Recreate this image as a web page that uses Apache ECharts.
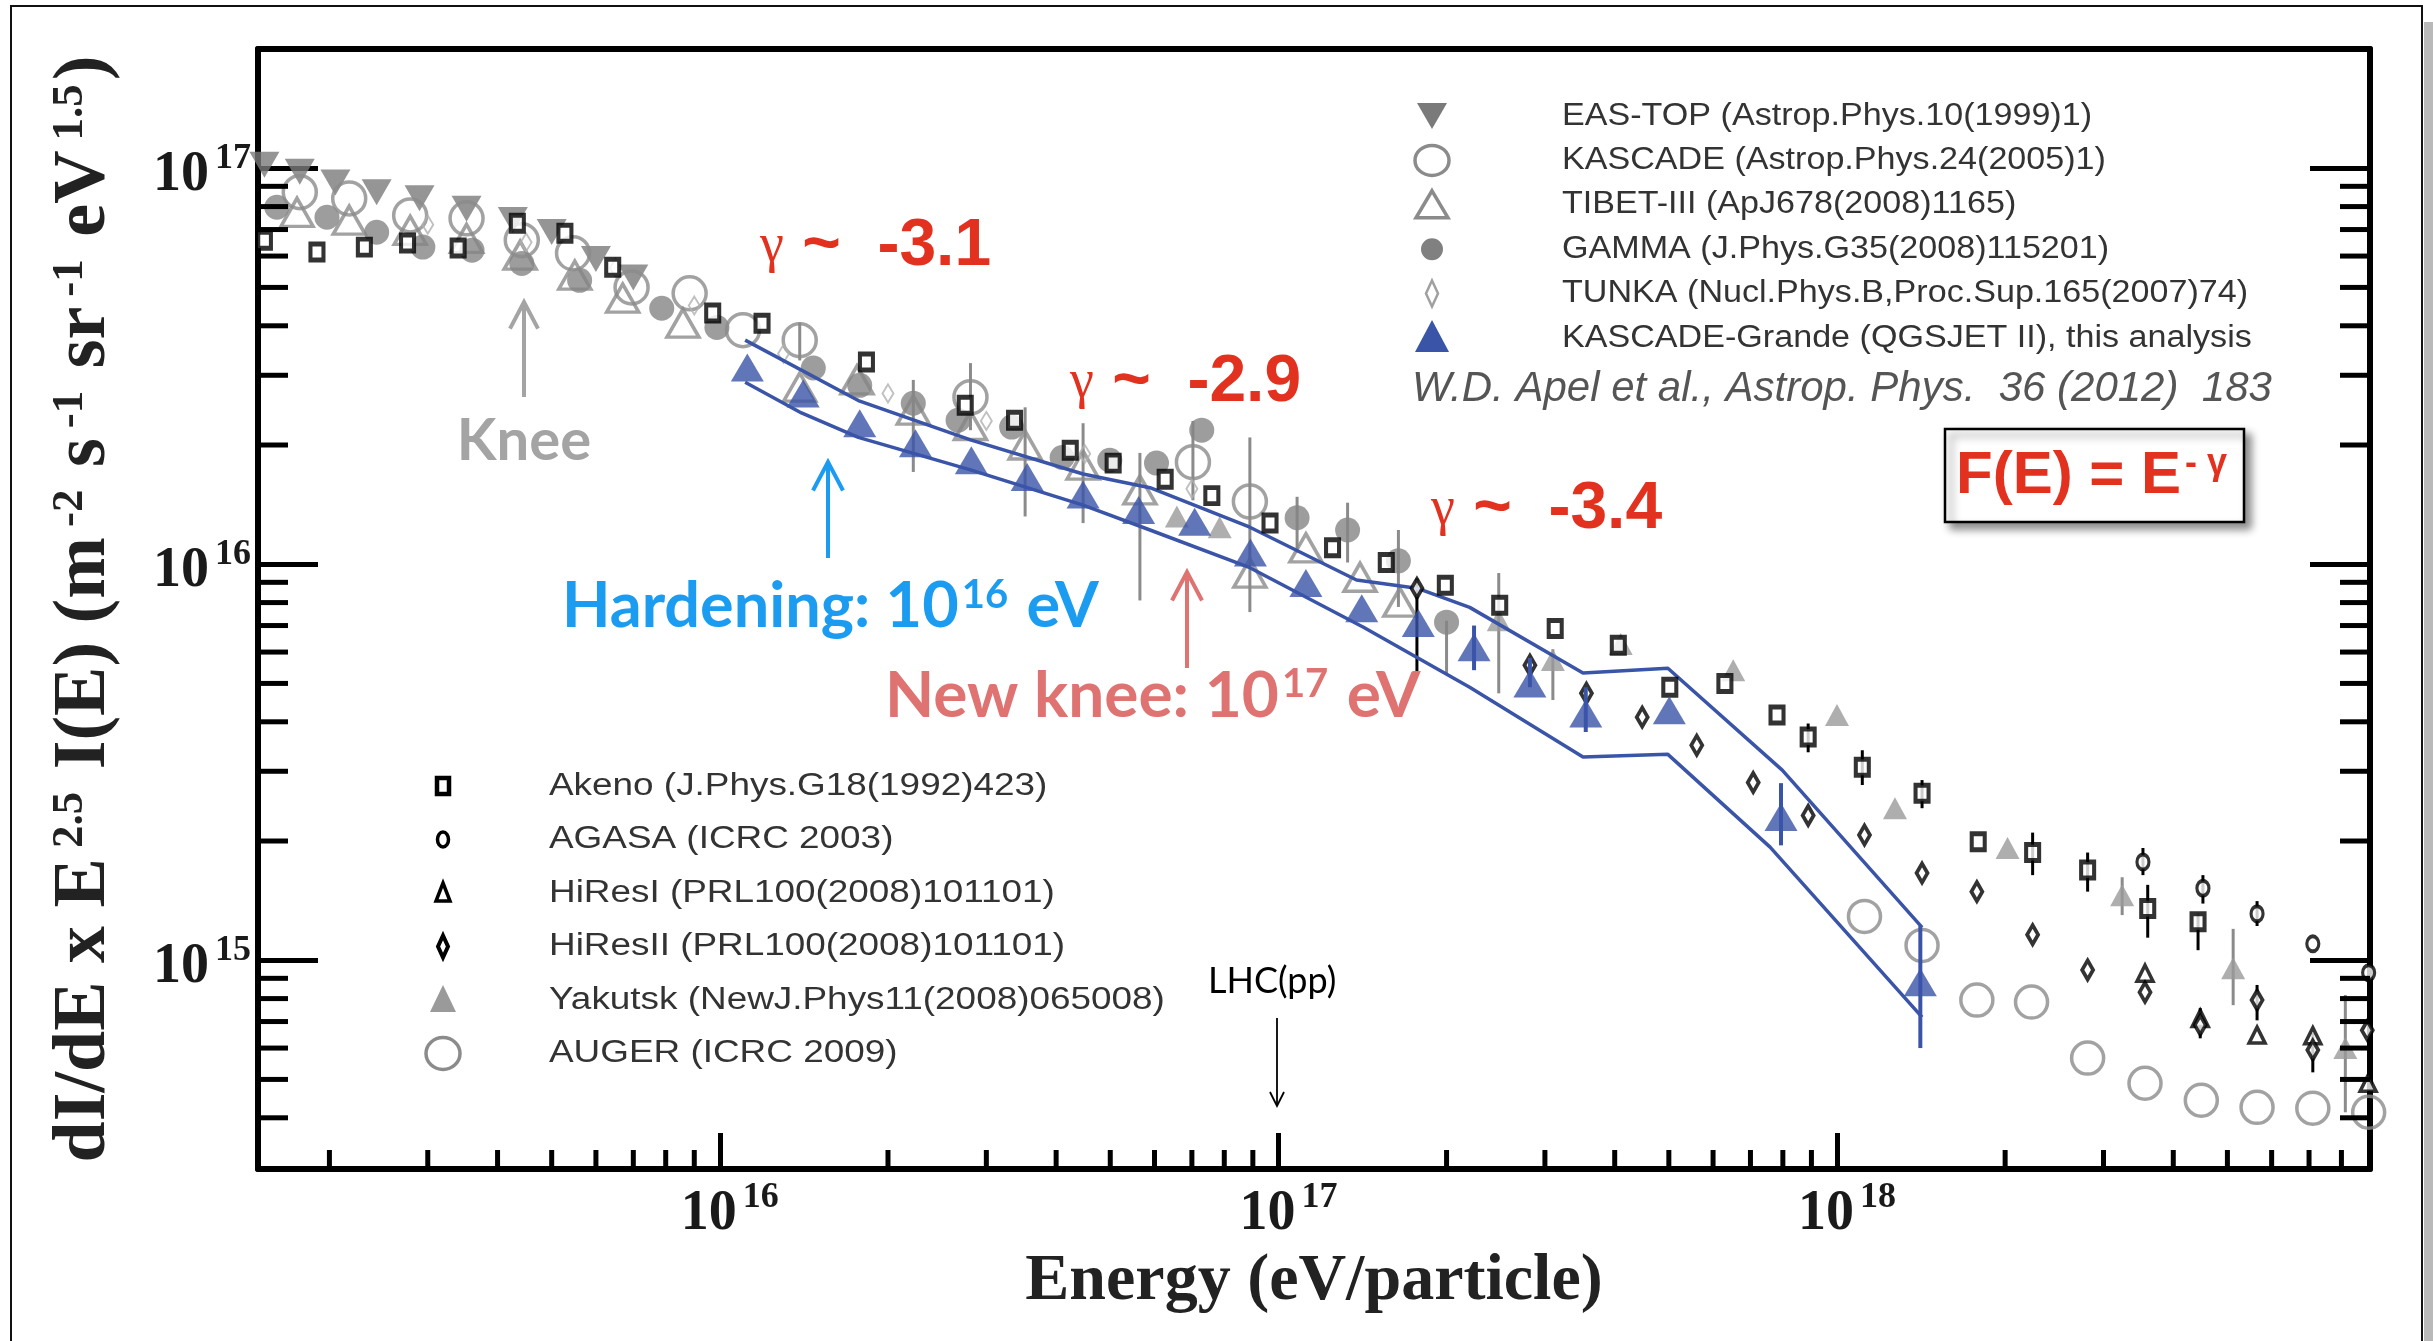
<!DOCTYPE html>
<html><head><meta charset="utf-8">
<script src="https://cdn.jsdelivr.net/npm/echarts@6/dist/echarts.min.js"></script>
<style>html,body{margin:0;padding:0;background:#fff}#c{width:2433px;height:1341px}</style>
</head><body><div id="c"></div>
<script>
// ---------- axis extents & ticks ----------
const X_MIN = 1.49e15, X_MAX = 9.0e18, Y_MIN = 2.97e14, Y_MAX = 2.0e17;
const tickExponents = [15, 16, 17, 18];
const xMinorTicks = [2e15,3e15,4e15,5e15,6e15,7e15,8e15,9e15,
  2e16,3e16,4e16,5e16,6e16,7e16,8e16,9e16,
  2e17,3e17,4e17,5e17,6e17,7e17,8e17,9e17,
  2e18,3e18,4e18,5e18,6e18,7e18,8e18];
const yMinorTicks = [4e14,5e14,6e14,7e14,8e14,9e14,
  2e15,3e15,4e15,5e15,6e15,7e15,8e15,9e15,
  2e16,3e16,4e16,5e16,6e16,7e16,8e16,9e16];

// ---------- series names ----------
const names = {
  easTop: 'EAS-TOP (Astrop.Phys.10(1999)1)',
  kascade: 'KASCADE (Astrop.Phys.24(2005)1)',
  tibet: 'TIBET-III (ApJ678(2008)1165)',
  gamma: 'GAMMA (J.Phys.G35(2008)115201)',
  tunka: 'TUNKA (Nucl.Phys.B,Proc.Sup.165(2007)74)',
  kg: 'KASCADE-Grande (QGSJET II), this analysis',
  akeno: 'Akeno (J.Phys.G18(1992)423)',
  agasa: 'AGASA (ICRC 2003)',
  hires1: 'HiResI (PRL100(2008)101101)',
  hires2: 'HiResII (PRL100(2008)101101)',
  yakutsk: 'Yakutsk (NewJ.Phys11(2008)065008)',
  auger: 'AUGER (ICRC 2009)'
};

// ---------- data: [E (eV), E^2.5 dI/dE] ----------
const easTop = [[1.53e15,1.02e17],[1.77e15,9.8e16],[2.05e15,9.2e16],[2.43e15,8.7e16],[2.90e15,8.4e16],
  [3.52e15,7.9e16],[4.26e15,7.4e16],[5.0e15,6.9e16],[6.0e15,5.9e16],[7.0e15,5.3e16]];
const kascade = [[1.77e15,8.70e16],[2.17e15,8.39e16],[2.79e15,7.60e16],[3.52e15,7.47e16],[4.42e15,6.58e16],
  [5.46e15,6.10e16],[6.95e15,5.00e16],[8.83e15,4.83e16],[1.10e16,3.90e16],[1.39e16,3.68e16],
  [2.81e16,2.64e16],[7.03e16,1.81e16],[8.89e16,1.44e16]];
const kascadeErr = [[1.39e16,3.27e16,4.08e16],[2.81e16,2.18e16,3.22e16],[7.03e16,1.45e16,2.3e16],[8.89e16,7.57e15,2.09e16]];
const tibet = [[1.75e15,7.74e16],[2.17e15,7.39e16],[2.79e15,6.97e16],[3.52e15,6.65e16],[4.39e15,6.03e16],
  [5.50e15,5.37e16],[6.70e15,4.70e16],[8.59e15,4.06e16],[1.39e16,2.80e16],[1.76e16,2.92e16],
  [2.22e16,2.45e16],[2.81e16,2.24e16],[3.52e16,2.00e16],[4.47e16,1.78e16],[5.65e16,1.54e16],
  [8.89e16,9.5e15],[1.12e17,1.10e16],[1.40e17,9.27e15],[1.65e17,8.02e15]];
const tibetErr = [[2.22e16,1.71e16,2.92e16],[3.52e16,1.32e16,2.49e16],[4.47e16,1.27e16,2.27e16],[5.65e16,8.1e15,1.91e16]];
const gamma = [[1.61e15,7.97e16],[1.98e15,7.52e16],[2.43e15,6.89e16],[2.94e15,6.32e16],[3.60e15,6.21e16],
  [4.42e15,5.75e16],[5.61e15,5.21e16],[7.87e15,4.43e16],[9.88e15,3.96e16],[1.47e16,3.13e16],
  [1.78e16,2.83e16],[2.22e16,2.55e16],[2.67e16,2.31e16],[3.33e16,2.22e16],[4.10e16,1.86e16],
  [4.99e16,1.83e16],[6.05e16,1.80e16],[7.29e16,2.18e16],[1.08e17,1.31e16],[1.33e17,1.22e16],
  [1.64e17,1.02e16],[2.00e17,7.14e15]];
const gammaErr = [[1.08e17,1.07e16,1.48e16],[1.33e17,1.01e16,1.43e16],[1.64e17,7.8e15,1.22e16],[2.00e17,5.3e15,7.2e15]];
const tunka = [[3.0e15,7.2e16],[4.5e15,6.5e16],[6.5e15,5.6e16],[9.0e15,4.5e16],[1.3e16,3.4e16],
  [2.0e16,2.7e16],[3.0e16,2.3e16],[4.5e16,1.9e16],[7.0e16,1.55e16]];
const kgE = [1.12e16,1.41e16,1.78e16,2.24e16,2.82e16,3.55e16,4.47e16,5.62e16,7.08e16,8.91e16,
  1.12e17,1.41e17,1.78e17,2.24e17,2.82e17,3.55e17,5.01e17,7.94e17,1.41e18];
const kgFlux = [3.14e16,2.70e16,2.27e16,2.02e16,1.83e16,1.66e16,1.50e16,1.37e16,1.28e16,1.07e16,
  8.96e15,7.74e15,7.10e15,6.17e15,5.00e15,4.20e15,4.28e15,2.30e15,8.8e14];
const kgErr = [[2.24e17,5.4e15,7.0e15],[2.82e17,4.89e15,5.80e15],[3.55e17,3.77e15,4.89e15],
  [7.94e17,1.95e15,2.80e15],[1.41e18,6.0e14,1.22e15]];
const kgBandUpper = [[1.11e16,3.68e16],[1.77e16,2.59e16],[2.81e16,2.06e16],[4.47e16,1.69e16],[5.89e16,1.56e16],
  [8.89e16,1.24e16],[1.38e17,9.12e15],[1.77e17,8.7e15],[2.20e17,7.78e15],[3.51e17,5.31e15],
  [4.98e17,5.46e15],[7.98e17,3.02e15],[1.42e18,1.21e15]];
const kgBandLower = [[1.11e16,2.88e16],[1.40e16,2.41e16],[1.77e16,2.09e16],[2.81e16,1.73e16],[4.47e16,1.41e16],
  [5.89e16,1.22e16],[8.89e16,9.8e15],[1.42e17,6.93e15],[2.20e17,4.89e15],[3.51e17,3.26e15],
  [4.98e17,3.31e15],[7.59e17,1.93e15],[1.42e18,7.18e14]];
const akeno = [[1.53e15,6.58e16],[1.90e15,6.14e16],[2.31e15,6.32e16],[2.76e15,6.47e16],[3.40e15,6.29e16],
  [4.34e15,7.26e16],[5.28e15,6.85e16],[6.43e15,5.62e16],[9.71e15,4.31e16],[1.19e16,4.06e16],
  [1.83e16,3.24e16],[2.75e16,2.52e16],[3.37e16,2.31e16],[4.24e16,1.94e16],[5.06e16,1.80e16],
  [6.27e16,1.64e16],[7.60e16,1.49e16],[9.66e16,1.27e16],[1.25e17,1.10e16],[1.56e17,1.01e16],
  [1.99e17,8.85e15],[2.49e17,7.88e15],[3.13e17,6.88e15],[4.06e17,6.24e15],[5.02e17,4.89e15],
  [6.30e17,5.00e15],[7.81e17,4.16e15],[8.88e17,3.66e15],[1.11e18,3.07e15],[1.42e18,2.64e15],
  [1.79e18,1.99e15],[2.24e18,1.87e15],[2.81e18,1.69e15],[3.60e18,1.35e15],[4.43e18,1.25e15]];
const akenoErr = [[8.88e17,3.35e15,3.96e15],[1.11e18,2.77e15,3.39e15],[1.42e18,2.42e15,2.85e15],
  [2.24e18,1.64e15,2.10e15],[2.81e18,1.49e15,1.87e15],[3.60e18,1.14e15,1.55e15],[4.43e18,1.06e15,1.31e15]];
const agasa = [[3.53e18,1.77e15],[4.52e18,1.52e15],[5.65e18,1.31e15],[7.11e18,1.10e15],[8.95e18,9.3e14]];
const agasaErr = [[3.53e18,1.64e15,1.92e15],[4.52e18,1.39e15,1.64e15],[5.65e18,1.22e15,1.41e15]];
const hires1 = [[3.56e18,9.27e14],[4.47e18,7.13e14],[5.65e18,6.47e14],[7.11e18,6.45e14],[8.93e18,4.89e14]];
const hires2 = [[1.77e17,8.69e15],[2.82e17,5.56e15],[3.56e17,4.72e15],[4.48e17,4.11e15],[5.61e17,3.49e15],
  [7.08e17,2.81e15],[8.88e17,2.32e15],[1.12e18,2.07e15],[1.42e18,1.66e15],[1.78e18,1.49e15],
  [2.24e18,1.16e15],[2.81e18,9.45e14],[3.56e18,8.30e14],[4.47e18,6.86e14],[5.65e18,7.93e14],
  [7.11e18,5.93e14],[8.9e18,6.65e14]];
const hires2Err = [[1.77e17,5.3e15,9.2e15],[4.47e18,6.35e14,7.57e14],[5.65e18,7.05e14,8.66e14],[7.11e18,5.21e14,6.55e14]];
const yakutsk = [[6.58e16,1.32e16],[7.85e16,1.24e16],[2.48e17,7.22e15],[3.10e17,5.73e15],[4.10e17,6.29e15],
  [6.52e17,5.40e15],[1.00e18,4.16e15],[1.27e18,2.42e15],[2.02e18,1.92e15],[3.24e18,1.46e15],
  [5.12e18,9.55e14],[8.13e18,6.0e14]];
const yakutskErr = [[2.48e17,4.72e15,9.5e15],[3.10e17,4.54e15,6.1e15],[3.24e18,1.30e15,1.62e15],
  [5.12e18,7.7e14,1.20e15],[8.13e18,4.13e14,8.17e14]];
const auger = [[1.12e18,1.29e15],[1.42e18,1.09e15],[1.78e18,7.93e14],[2.23e18,7.84e14],[2.81e18,5.66e14],
  [3.56e18,4.89e14],[4.49e18,4.43e14],[5.65e18,4.25e14],[7.11e18,4.23e14],[8.95e18,4.13e14]];

// ---------- styles ----------
const GREY = '#8b8b8b', DGREY = '#7a7a7a', BLUE = '#3a54a8', BLACK = '#000';

function scatter(name, data, symbol, size, itemStyle, extra) {
  return Object.assign({ type: 'scatter', name, data, symbol, symbolSize: size, itemStyle,
    clip: false, silent: true, z: 3 }, extra || {});
}
function errors(data, color, width, z) {
  return { type: 'custom', data, silent: true, clip: false, z: z || 2, encode: { x: 0, y: [1, 2] },
    renderItem: (p, api) => {
      const x = api.value(0);
      const a = api.coord([x, api.value(1)]), b = api.coord([x, api.value(2)]);
      return { type: 'line', shape: { x1: a[0], y1: a[1], x2: b[0], y2: b[1] },
        style: { stroke: color, lineWidth: width } };
    } };
}
function ticks(data, dx, dy) {
  return { type: 'custom', data, silent: true, clip: false, z: 6, encode: { x: 0, y: 1 },
    renderItem: (p, api) => {
      const c = api.coord([api.value(0), api.value(1)]);
      return { type: 'line', shape: { x1: c[0], y1: c[1], x2: c[0] + dx, y2: c[1] + dy },
        style: { stroke: '#000', lineWidth: 5 } };
    } };
}
const kgData = kgE.map((e, i) => [e, kgFlux[i]]);

const labelFmt = v => {
  const e = Math.log10(v), r = Math.round(e);
  if (Math.abs(e - r) > 1e-6 || tickExponents.indexOf(r) < 0) return '';
  return '{b|10}{s|' + r + '}';
};
const labelRich = {
  b: { fontFamily: 'Liberation Serif', fontWeight: 'bold', fontSize: 56, lineHeight: 56, color: '#1a1a1a', padding: [14, 0, 0, 20] },
  s: { fontFamily: 'Liberation Serif', fontWeight: 'bold', fontSize: 36, lineHeight: 36, color: '#1a1a1a', verticalAlign: 'top', padding: [0, 0, 0, 6] }
};

// ---------- graphic: legends & annotations ----------
const g = [];
g.push({ type: 'rect', shape: { x: 11, y: 6, width: 2411, height: 1400 }, style: { fill: 'none', stroke: '#111', lineWidth: 2 }, z: 100 });
g.push({ type: 'rect', shape: { x: 2424, y: 22, width: 9, height: 1330 }, style: { fill: '#b9b9b9' }, z: 100 });

function txt(x, y, text, style, extra) {
  return Object.assign({ type: 'text', x, y, z: 100, silent: true,
    style: Object.assign({ text, verticalAlign: 'middle', textVerticalAlign: 'middle', align: 'left', textAlign: 'left' }, style) }, extra || {});
}
// legend 1 (top right)
const leg1 = [names.easTop, names.kascade, names.tibet, names.gamma, names.tunka, names.kg];
leg1.forEach((n, i) => {
  const cy = 116 + i * 44.4, cx = 1432;
  g.push(txt(1562, cy, n, { fontFamily: 'Liberation Sans', fontSize: 31, fill: '#333' }, { scaleX: 1.1 }));
  let s;
  if (i === 0) s = { type: 'polygon', shape: { points: [[cx - 15, cy - 13], [cx + 15, cy - 13], [cx, cy + 13]] }, style: { fill: DGREY } };
  if (i === 1) s = { type: 'ellipse', shape: { cx, cy, rx: 17, ry: 15 }, style: { fill: 'none', stroke: GREY, lineWidth: 3.5 } };
  if (i === 2) s = { type: 'polygon', shape: { points: [[cx, cy - 14], [cx + 16, cy + 13], [cx - 16, cy + 13]] }, style: { fill: 'none', stroke: GREY, lineWidth: 3.5 } };
  if (i === 3) s = { type: 'circle', shape: { cx, cy, r: 11 }, style: { fill: '#808080' } };
  if (i === 4) s = { type: 'polygon', shape: { points: [[cx, cy - 13], [cx + 6, cy], [cx, cy + 13], [cx - 6, cy]] }, style: { fill: 'none', stroke: '#a0a0a0', lineWidth: 2.5 } };
  if (i === 5) s = { type: 'polygon', shape: { points: [[cx, cy - 18], [cx + 17, cy + 14], [cx - 17, cy + 14]] }, style: { fill: BLUE } };
  s.z = 100; g.push(s);
});
// legend 2 (bottom left)
const leg2 = [names.akeno, names.agasa, names.hires1, names.hires2, names.yakutsk, names.auger];
leg2.forEach((n, i) => {
  const cy = 786 + i * 53.5, cx = 443;
  g.push(txt(549, cy, n, { fontFamily: 'Liberation Sans', fontSize: 31, fill: '#333' }, { scaleX: 1.19 }));
  let s;
  if (i === 0) s = { type: 'rect', shape: { x: cx - 6, y: cy - 8, width: 12, height: 16 }, style: { fill: '#fff', stroke: BLACK, lineWidth: 4.5 } };
  if (i === 1) s = { type: 'ellipse', shape: { cx, cy, rx: 5.5, ry: 7.5 }, style: { fill: '#fff', stroke: BLACK, lineWidth: 3.5 } };
  if (i === 2) s = { type: 'polygon', shape: { points: [[cx, cy - 10], [cx + 7, cy + 8], [cx - 7, cy + 8]] }, style: { fill: '#fff', stroke: BLACK, lineWidth: 3.5 } };
  if (i === 3) s = { type: 'polygon', shape: { points: [[cx, cy - 11], [cx + 5, cy], [cx, cy + 11], [cx - 5, cy]] }, style: { fill: '#fff', stroke: BLACK, lineWidth: 4 } };
  if (i === 4) s = { type: 'polygon', shape: { points: [[cx, cy - 15], [cx + 13, cy + 12], [cx - 13, cy + 12]] }, style: { fill: '#9a9a9a' } };
  if (i === 5) s = { type: 'ellipse', shape: { cx, cy, rx: 17, ry: 16 }, style: { fill: 'none', stroke: GREY, lineWidth: 3.5 } };
  s.z = 100; g.push(s);
});

// annotations
const RED = '#e2311f';
function gammaLabel(x, y, val) {
  return txt(x, y, '{g|γ}{b| ~  ' + val + '}', {
    rich: {
      g: { fontFamily: 'Liberation Serif', fontSize: 54, fill: RED, color: RED },
      b: { fontFamily: 'Liberation Sans', fontWeight: 'bold', fontSize: 66, fill: RED, color: RED }
    }
  });
}
g.push(gammaLabel(760, 247, '-3.1'));
g.push(gammaLabel(1070, 383, '-2.9'));
g.push(gammaLabel(1431, 510, '-3.4'));

function arrow(x, yTop, yBot, color, w, head) {
  g.push({ type: 'line', z: 100, shape: { x1: x, y1: yBot, x2: x, y2: yTop + 2 }, style: { stroke: color, lineWidth: w } });
  g.push({ type: 'polyline', z: 100, shape: { points: [[x - head, yTop + head * 1.9], [x, yTop], [x + head, yTop + head * 1.9]] }, style: { stroke: color, lineWidth: w, fill: 'none' } });
}
const GREYA = '#a4a4a4', BLUEA = '#1b9cf0', PINK = '#de7371';
arrow(524, 302, 397, GREYA, 4, 14);
g.push(txt(524, 441, 'Knee', { fontFamily: 'Lato', fontWeight: 'bold', fontSize: 58, fill: GREYA, align: 'center', textAlign: 'center' }));
arrow(828, 462, 558, BLUEA, 4, 15);
g.push(txt(562, 607, '{a|Hardening: 10}{s|16}{a| eV}', {
  rich: {
    a: { fontFamily: 'Lato', fontWeight: 'bold', fontSize: 63, fill: BLUEA, color: BLUEA },
    s: { fontFamily: 'Lato', fontWeight: 'bold', fontSize: 40, fill: BLUEA, color: BLUEA, verticalAlign: 'top', padding: [0, 3, 0, 3] }
  }
}));
arrow(1187, 572, 668, PINK, 4, 15);
g.push(txt(885, 696, '{a|New knee: 10}{s|17}{a| eV}', {
  rich: {
    a: { fontFamily: 'Lato', fontWeight: 'bold', fontSize: 64, fill: PINK, color: PINK },
    s: { fontFamily: 'Lato', fontWeight: 'bold', fontSize: 40, fill: PINK, color: PINK, verticalAlign: 'top', padding: [0, 3, 0, 3] }
  }
}));
// LHC
g.push(txt(1208, 981, 'LHC(pp)', { fontFamily: 'Lato', fontSize: 36, fill: '#000' }));
g.push({ type: 'line', z: 100, shape: { x1: 1277, y1: 1018, x2: 1277, y2: 1105 }, style: { stroke: '#000', lineWidth: 1.8 } });
g.push({ type: 'polyline', z: 100, shape: { points: [[1270, 1092], [1277, 1106], [1284, 1092]] }, style: { stroke: '#000', lineWidth: 1.8, fill: 'none' } });
// citation
g.push(txt(1412, 389, 'W.D. Apel et al., Astrop. Phys.  36 (2012)  183', { fontFamily: 'Liberation Sans', fontStyle: 'italic', fontSize: 42, fill: '#555' }));
// F(E) box
g.push({ type: 'rect', z: 100, shape: { x: 1945, y: 429, width: 299, height: 93 },
  style: { fill: '#fff', stroke: '#000', lineWidth: 2.5, shadowBlur: 8, shadowColor: 'rgba(0,0,0,0.45)', shadowOffsetX: 6, shadowOffsetY: 6 } });
g.push(txt(1956, 476, '{a|F(E) = E}{s|- γ}', {
  rich: {
    a: { fontFamily: 'Liberation Sans', fontWeight: 'bold', fontSize: 60, fill: RED, color: RED },
    s: { fontFamily: 'Liberation Sans', fontWeight: 'bold', fontSize: 36, fill: RED, color: RED, verticalAlign: 'top', padding: [0, 0, 0, 4] }
  }
}, { z: 101 }));

// ---------- chart ----------
const chart = echarts.init(document.getElementById('c'), null, { renderer: 'canvas' });
const axisLine = { show: true, onZero: false, lineStyle: { color: '#000', width: 6 } };
chart.setOption({
  animation: false,
  backgroundColor: '#fff',
  grid: { left: 258, right: 63, top: 49, bottom: 172, containLabel: false },
  xAxis: [{
    type: 'log', logBase: 10, min: X_MIN, max: X_MAX, position: 'bottom',
    axisLine, splitLine: { show: false },
    axisTick: { show: true, inside: true, length: 36, lineStyle: { color: '#000', width: 5 } },
    axisLabel: { show: true, margin: 11, formatter: labelFmt, rich: labelRich, showMinLabel: false, showMaxLabel: false },
    name: 'Energy (eV/particle)', nameLocation: 'middle', nameGap: 80,
    nameTextStyle: { fontFamily: 'Liberation Serif', fontWeight: 'bold', fontSize: 66, color: '#222', verticalAlign: 'top' }
  }, {
    type: 'log', logBase: 10, min: X_MIN, max: X_MAX, position: 'top',
    axisLine, splitLine: { show: false }, axisTick: { show: false }, axisLabel: { show: false }
  }],
  yAxis: [{
    type: 'log', logBase: 10, min: Y_MIN, max: Y_MAX, position: 'left',
    axisLine, splitLine: { show: false },
    axisTick: { show: true, inside: true, length: 60, lineStyle: { color: '#000', width: 5 } },
    axisLabel: { show: true, margin: 7, formatter: labelFmt, rich: labelRich, showMinLabel: false, showMaxLabel: false },
    name: '{b|dI/dE x E}{s|2.5}{b| I(E) (m}{s|-2}{b| s}{s|-1}{b| sr}{s|-1}{b| eV}{s|1.5}{b|)}',
    nameLocation: 'middle', nameRotate: 90, nameGap: 130,
    nameTextStyle: { rich: {
      b: { fontFamily: 'Liberation Serif', fontWeight: 'bold', fontSize: 74, lineHeight: 74, color: '#222' },
      s: { fontFamily: 'Liberation Serif', fontWeight: 'bold', fontSize: 45, lineHeight: 45, color: '#222', verticalAlign: 'top', padding: [0, 4, 0, 10] }
    } }
  }, {
    type: 'log', logBase: 10, min: Y_MIN, max: Y_MAX, position: 'right',
    axisLine, splitLine: { show: false },
    axisTick: { show: true, inside: true, length: 60, lineStyle: { color: '#000', width: 5 } },
    axisLabel: { show: false }
  }],
  series: [
    scatter(names.easTop, easTop, 'triangle', [30, 26], { color: DGREY }, { symbolRotate: 180 }),
    scatter(names.tibet, tibet, 'triangle', [32, 28], { color: 'transparent', borderColor: GREY, borderWidth: 3.5 }),
    scatter(names.gamma, gamma, 'circle', 25, { color: '#858585' }),
    scatter(names.kascade, kascade, 'circle', 33, { color: 'transparent', borderColor: GREY, borderWidth: 3.5 }),
    scatter(names.tunka, tunka, 'diamond', [11, 18], { color: 'transparent', borderColor: '#b0b0b0', borderWidth: 2 }),
    scatter(names.yakutsk, yakutsk, 'triangle', [24, 22], { color: '#9a9a9a' }),
    scatter(names.auger, auger, 'circle', 32, { color: 'transparent', borderColor: GREY, borderWidth: 3.5 }),
    errors(kascadeErr, GREY, 3), errors(tibetErr, GREY, 3), errors(gammaErr, GREY, 3), errors(yakutskErr, GREY, 3),
    { type: 'line', name: 'KG band upper', data: kgBandUpper, symbol: 'none', silent: true, z: 4,
      lineStyle: { color: BLUE, width: 3.5 } },
    { type: 'line', name: 'KG band lower', data: kgBandLower, symbol: 'none', silent: true, z: 4,
      lineStyle: { color: BLUE, width: 3.5 } },
    errors(akenoErr, BLACK, 3, 4), errors(agasaErr, BLACK, 3, 4), errors(hires2Err, BLACK, 3, 4),
    scatter(names.akeno, akeno, 'rect', [13, 16], { color: '#fff', borderColor: BLACK, borderWidth: 4.5 }, { z: 5 }),
    scatter(names.agasa, agasa, 'circle', [12, 15], { color: '#fff', borderColor: BLACK, borderWidth: 3.5 }, { z: 5 }),
    scatter(names.hires1, hires1, 'triangle', [16, 16], { color: '#fff', borderColor: BLACK, borderWidth: 3.5 }, { z: 5 }),
    scatter(names.hires2, hires2, 'diamond', [11, 19], { color: '#fff', borderColor: BLACK, borderWidth: 4 }, { z: 5 }),
    errors(kgErr, BLUE, 4, 6),
    scatter(names.kg, kgData, 'triangle', [33, 28], { color: BLUE }, { z: 6 }),
    ticks(xMinorTicks.map(v => [v, Y_MIN]), 0, -19),
    ticks(yMinorTicks.map(v => [X_MIN, v]), 30, 0),
    ticks(yMinorTicks.map(v => [X_MAX, v]), -30, 0)
  ],
  graphic: { elements: g }
});
</script></body></html>
